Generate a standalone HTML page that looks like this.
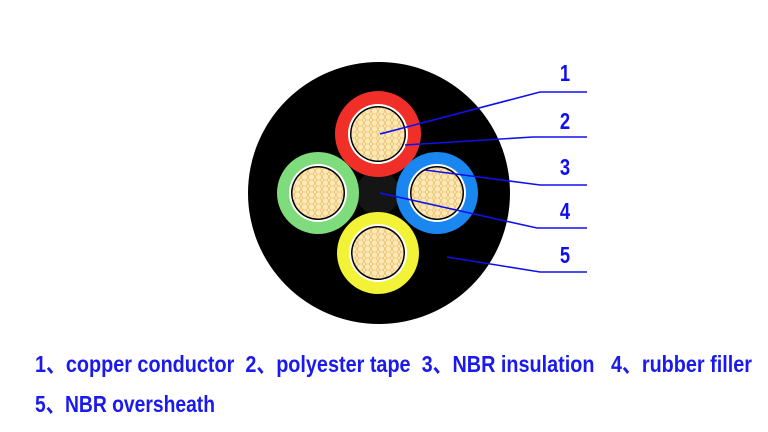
<!DOCTYPE html>
<html><head><meta charset="utf-8"><style>
html,body{margin:0;padding:0;background:#fff;width:768px;height:432px;overflow:hidden}
text{white-space:pre}
</style></head><body>
<svg width="768" height="432" viewBox="0 0 768 432" xmlns="http://www.w3.org/2000/svg">
<defs>
<pattern id="hex" width="7" height="6" patternUnits="userSpaceOnUse">
<rect width="7" height="6" fill="#fbe9b8"/>
<path d="M0 3 L1.75 0 L5.25 0 L7 3 L5.25 6 L1.75 6 Z" fill="none" stroke="#eab050" stroke-width="0.6"/>
</pattern>
</defs>
<circle cx="379" cy="193" r="131" fill="#000"/>
<circle cx="378" cy="193" r="22" fill="#151515"/>
<g>
<circle cx="378" cy="134" r="43" fill="#f03028"/>
<circle cx="378" cy="134" r="30" fill="#fff"/>
<circle cx="378" cy="134" r="28" fill="#000"/>
<circle cx="378" cy="134" r="26.5" fill="url(#hex)"/>
</g>
<g>
<circle cx="318" cy="193" r="41" fill="#7edc7c"/>
<circle cx="318" cy="193" r="29" fill="#fff"/>
<circle cx="318" cy="193" r="27" fill="#000"/>
<circle cx="318" cy="193" r="25.5" fill="url(#hex)"/>
</g>
<g>
<circle cx="437" cy="193" r="41" fill="#1a86f0"/>
<circle cx="437" cy="193" r="29" fill="#fff"/>
<circle cx="437" cy="193" r="27" fill="#000"/>
<circle cx="437" cy="193" r="25.5" fill="url(#hex)"/>
</g>
<g>
<circle cx="378" cy="253" r="41" fill="#f2f236"/>
<circle cx="378" cy="253" r="29" fill="#fff"/>
<circle cx="378" cy="253" r="27" fill="#000"/>
<circle cx="378" cy="253" r="25.5" fill="url(#hex)"/>
</g>
<g stroke="#1010ee" stroke-width="1.6" fill="none">
<polyline points="380,134 540,92 587,92"/>
<polyline points="405,145 533,137 587,137"/>
<polyline points="425,170 540,185 587,185"/>
<polyline points="380,193 537,228 587,228"/>
<polyline points="447,257 540,272 587,272"/>
</g>
<g fill="#1010ee" font-family="Liberation Sans, sans-serif" font-weight="bold" font-size="23" text-anchor="middle">
<text transform="translate(565,81) scale(0.8,1)">1</text>
<text transform="translate(565,129) scale(0.8,1)">2</text>
<text transform="translate(565,175) scale(0.8,1)">3</text>
<text transform="translate(565,219) scale(0.8,1)">4</text>
<text transform="translate(565,263) scale(0.8,1)">5</text>
</g>
<g fill="#1a1aee" font-family="Liberation Sans, 'Noto Sans CJK SC', sans-serif" font-weight="bold" font-size="23">
<text x="35" y="372" textLength="717" lengthAdjust="spacingAndGlyphs" xml:space="preserve">1、copper conductor  2、polyester tape  3、NBR insulation   4、rubber filler</text>
<text x="35" y="412" textLength="180" lengthAdjust="spacingAndGlyphs">5、NBR oversheath</text>
</g>
</svg>
</body></html>
